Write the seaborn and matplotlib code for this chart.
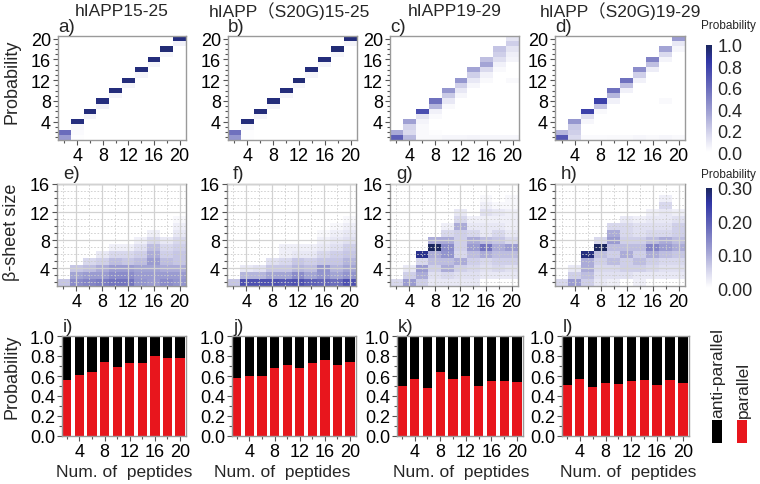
import matplotlib
matplotlib.use("Agg")
import matplotlib.pyplot as plt
import numpy as np
import pandas as pd
import seaborn as sns
from matplotlib.colors import LinearSegmentedColormap
from matplotlib.patches import Rectangle

sns.set_style("ticks")
plt.rcParams["font.family"] = ["Liberation Sans", "Noto Sans CJK SC", "DejaVu Sans"]

# ---------------- data ----------------
titles = ["hIAPP15-25", "hIAPP（S20G)15-25", "hIAPP19-29", "hIAPP（S20G)19-29"]
letters = ["a)", "b)", "c)", "d)", "e)", "f)", "g)", "h)", "i)", "j)", "k)", "l)"]
row_labels = ["Probability", "β-sheet size", "Probability"]
xlabel = "Num. of  peptides"
peptides = [2, 4, 6, 8, 10, 12, 14, 16, 18, 20]
x_major = [4, 8, 12, 16, 20]
cluster_sizes = list(range(1, 21))
sheet_sizes = list(range(2, 21))
cluster_ticks = [4, 8, 12, 16, 20]
sheet_ticks = [4, 8, 12, 16]
prob_ticks = [0.0, 0.2, 0.4, 0.6, 0.8, 1.0]
cbar_top_ticks = [0.0, 0.2, 0.4, 0.6, 0.8, 1.0]
cbar_mid_ticks = [0.0, 0.1, 0.2, 0.3]
legend_labels = ["anti-parallel", "parallel"]

# top row: probability of cluster size (key: num. of peptides -> {size: prob})
cluster_15_25 = {
    2: {1: 0.40, 2: 0.60},
    4: {1: 0.01, 2: 0.02, 3: 0.04, 4: 0.93},
    6: {5: 0.05, 6: 0.94},
    8: {7: 0.06, 8: 0.93},
    10: {9: 0.05, 10: 0.94},
    12: {11: 0.05, 12: 0.94},
    14: {13: 0.05, 14: 0.94},
    16: {15: 0.05, 16: 0.94},
    18: {17: 0.04, 18: 0.95},
    20: {19: 0.06, 20: 0.93},
}
cluster_s20g_15_25 = {
    2: {1: 0.42, 2: 0.58},
    4: {1: 0.01, 2: 0.01, 3: 0.04, 4: 0.94},
    6: {5: 0.05, 6: 0.94},
    8: {7: 0.05, 8: 0.94},
    10: {9: 0.05, 10: 0.94},
    12: {11: 0.04, 12: 0.95},
    14: {13: 0.05, 14: 0.94},
    16: {15: 0.05, 16: 0.94},
    18: {17: 0.04, 18: 0.95},
    20: {19: 0.05, 20: 0.94},
}
cluster_19_29 = {
    2: {1: 0.66, 2: 0.34},
    4: {1: 0.28, 2: 0.16, 3: 0.18, 4: 0.38},
    6: {1: 0.03, 2: 0.03, 3: 0.03, 4: 0.05, 5: 0.12, 6: 0.74},
    8: {1: 0.03, 2: 0.01, 5: 0.02, 6: 0.06, 7: 0.30, 8: 0.58},
    10: {1: 0.04, 7: 0.03, 8: 0.10, 9: 0.22, 10: 0.42},
    12: {1: 0.04, 9: 0.04, 10: 0.10, 11: 0.20, 12: 0.42},
    14: {1: 0.05, 11: 0.04, 12: 0.10, 13: 0.20, 14: 0.36},
    16: {1: 0.04, 12: 0.03, 13: 0.06, 14: 0.16, 15: 0.36, 16: 0.26},
    18: {1: 0.04, 14: 0.03, 15: 0.06, 16: 0.14, 17: 0.20, 18: 0.24},
    20: {1: 0.04, 12: 0.03, 16: 0.05, 17: 0.07, 18: 0.12, 19: 0.20, 20: 0.12},
}
cluster_s20g_19_29 = {
    2: {1: 0.70, 2: 0.30},
    4: {1: 0.16, 2: 0.20, 3: 0.22, 4: 0.42},
    6: {1: 0.02, 4: 0.04, 5: 0.14, 6: 0.80},
    8: {1: 0.02, 6: 0.03, 7: 0.24, 8: 0.80},
    10: {1: 0.03, 8: 0.06, 9: 0.30, 10: 0.58},
    12: {1: 0.03, 10: 0.06, 11: 0.26, 12: 0.58},
    14: {1: 0.04, 12: 0.06, 13: 0.20, 14: 0.46},
    16: {1: 0.03, 14: 0.08, 15: 0.26, 16: 0.50},
    18: {1: 0.04, 8: 0.03, 16: 0.05, 17: 0.16, 18: 0.36},
    20: {1: 0.03, 18: 0.04, 19: 0.10, 20: 0.40},
}

# middle row: probability of beta-sheet size
sheet_15_25 = {
    2: {2: 0.07},
    4: {2: 0.14, 3: 0.11, 4: 0.07},
    6: {2: 0.15, 3: 0.12, 4: 0.08, 5: 0.05},
    8: {2: 0.16, 3: 0.12, 4: 0.10, 5: 0.06, 6: 0.03},
    10: {2: 0.17, 3: 0.14, 4: 0.12, 5: 0.08, 6: 0.05, 7: 0.02},
    12: {2: 0.17, 3: 0.14, 4: 0.12, 5: 0.07, 6: 0.05, 7: 0.02},
    14: {2: 0.13, 3: 0.12, 4: 0.11, 5: 0.08, 6: 0.06, 7: 0.04, 8: 0.02},
    16: {2: 0.12, 3: 0.12, 4: 0.11, 5: 0.12, 6: 0.10, 7: 0.08, 8: 0.05, 9: 0.02},
    18: {2: 0.14, 3: 0.12, 4: 0.10, 5: 0.08, 6: 0.06, 7: 0.05, 8: 0.03},
    20: {2: 0.13, 3: 0.12, 4: 0.10, 5: 0.07, 6: 0.07, 7: 0.06, 8: 0.05, 9: 0.03, 10: 0.02, 11: 0.01},
}
sheet_s20g_15_25 = {
    2: {2: 0.07},
    4: {2: 0.22, 3: 0.09, 4: 0.03},
    6: {2: 0.22, 3: 0.09, 4: 0.04},
    8: {2: 0.22, 3: 0.11, 4: 0.07, 5: 0.04},
    10: {2: 0.21, 3: 0.11, 4: 0.07, 5: 0.05, 6: 0.02, 7: 0.02},
    12: {2: 0.22, 3: 0.14, 4: 0.09, 5: 0.07, 6: 0.03, 7: 0.02},
    14: {2: 0.20, 3: 0.11, 4: 0.08, 5: 0.06, 6: 0.03, 7: 0.02},
    16: {2: 0.19, 3: 0.13, 4: 0.13, 5: 0.07, 6: 0.05, 7: 0.03, 8: 0.02, 9: 0.01},
    18: {2: 0.18, 3: 0.11, 4: 0.09, 5: 0.07, 6: 0.06, 7: 0.04, 8: 0.03, 9: 0.02, 10: 0.01},
    20: {2: 0.22, 3: 0.13, 4: 0.11, 5: 0.09, 6: 0.07, 7: 0.06, 8: 0.04, 9: 0.03, 10: 0.02, 11: 0.01},
}
sheet_19_29 = {
    2: {2: 0.05},
    4: {2: 0.12, 3: 0.06, 4: 0.03},
    6: {2: 0.06, 3: 0.10, 4: 0.12, 5: 0.05, 6: 0.27},
    8: {2: 0.03, 3: 0.04, 4: 0.06, 5: 0.08, 6: 0.10, 7: 0.30, 8: 0.10},
    10: {2: 0.03, 3: 0.05, 4: 0.10, 5: 0.08, 6: 0.13, 7: 0.14, 8: 0.10, 9: 0.05, 10: 0.02},
    12: {2: 0.03, 3: 0.04, 4: 0.06, 5: 0.10, 6: 0.05, 7: 0.06, 8: 0.06, 9: 0.06, 10: 0.10, 11: 0.05, 12: 0.03},
    14: {2: 0.03, 3: 0.04, 4: 0.05, 5: 0.06, 6: 0.08, 7: 0.12, 8: 0.10, 9: 0.05, 10: 0.03, 11: 0.02},
    16: {3: 0.03, 4: 0.04, 5: 0.05, 6: 0.10, 7: 0.17, 8: 0.08, 9: 0.03, 10: 0.03, 11: 0.02, 12: 0.04, 13: 0.02, 14: 0.01},
    18: {3: 0.03, 4: 0.05, 5: 0.06, 6: 0.08, 7: 0.10, 8: 0.07, 9: 0.05, 10: 0.03, 11: 0.02, 12: 0.03, 13: 0.01},
    20: {3: 0.03, 4: 0.04, 5: 0.06, 6: 0.08, 7: 0.12, 8: 0.05, 9: 0.03, 10: 0.02, 11: 0.02, 12: 0.02, 13: 0.01, 14: 0.01},
}
sheet_s20g_19_29 = {
    2: {2: 0.05},
    4: {2: 0.12, 3: 0.06, 4: 0.03},
    6: {2: 0.06, 3: 0.08, 4: 0.10, 5: 0.10, 6: 0.28},
    8: {2: 0.03, 3: 0.04, 4: 0.05, 5: 0.06, 6: 0.08, 7: 0.30, 8: 0.05},
    10: {2: 0.02, 3: 0.04, 4: 0.05, 5: 0.08, 6: 0.06, 7: 0.08, 8: 0.12, 9: 0.10, 10: 0.05},
    12: {3: 0.04, 4: 0.06, 5: 0.06, 6: 0.10, 7: 0.08, 8: 0.06, 9: 0.05, 10: 0.05, 11: 0.03},
    14: {2: 0.02, 3: 0.03, 4: 0.06, 5: 0.08, 6: 0.06, 7: 0.08, 8: 0.06, 9: 0.04, 10: 0.04, 11: 0.02},
    16: {3: 0.03, 4: 0.05, 5: 0.06, 6: 0.10, 7: 0.15, 8: 0.08, 9: 0.05, 10: 0.04, 11: 0.03, 12: 0.02},
    18: {3: 0.03, 4: 0.04, 5: 0.05, 6: 0.08, 7: 0.12, 8: 0.10, 9: 0.05, 10: 0.04, 11: 0.03, 12: 0.03, 13: 0.05, 14: 0.02},
    20: {3: 0.03, 4: 0.04, 5: 0.05, 6: 0.07, 7: 0.10, 8: 0.08, 9: 0.06, 10: 0.06, 11: 0.04, 12: 0.02},
}

# bottom row: fraction of parallel sheets
parallel_15_25 = [0.56, 0.61, 0.64, 0.74, 0.69, 0.73, 0.73, 0.80, 0.78, 0.78]
parallel_s20g_15_25 = [0.58, 0.60, 0.60, 0.68, 0.71, 0.68, 0.73, 0.76, 0.71, 0.74]
parallel_19_29 = [0.50, 0.57, 0.48, 0.64, 0.57, 0.60, 0.50, 0.55, 0.55, 0.54]
parallel_s20g_19_29 = [0.51, 0.57, 0.49, 0.53, 0.52, 0.55, 0.56, 0.51, 0.56, 0.53]

cluster_data = [cluster_15_25, cluster_s20g_15_25, cluster_19_29, cluster_s20g_19_29]
sheet_data = [sheet_15_25, sheet_s20g_15_25, sheet_19_29, sheet_s20g_19_29]
parallel_data = [parallel_15_25, parallel_s20g_15_25, parallel_19_29, parallel_s20g_19_29]

# ---------------- styling / layout ----------------
W, H = 760, 485
RED = "#e8161d"
SPINE = "#9a9a9a"
TICKC = "#555555"
FS = 13
cmap = LinearSegmentedColormap.from_list(
    "prob",
    [(0.0, "#ffffff"), (0.15, "#dcdcef"), (0.35, "#a6a7d6"), (0.6, "#6a6cbc"),
     (0.85, "#3136a6"), (1.0, "#1b275f")])

top_boxes = [(58, 37, 186, 141), (228, 37, 357, 141), (390, 37, 519, 141), (555, 37, 685, 141)]
mid_boxes = [(57, 185, 186, 287), (227, 185, 356, 287), (390, 185, 518, 287), (555, 185, 685, 287)]
bot_boxes = [(62, 337, 186, 437), (232, 337, 356, 437), (397, 337, 523, 437), (562, 337, 689, 437)]
title_x = [122, 289, 455, 620]
xlabel_x = [124, 282, 461, 628]

fig = plt.figure(figsize=(W / 100, H / 100), dpi=100)


def px_axes(box):
    l, t, r, b = box
    return fig.add_axes([l / W, 1 - b / H, (r - l) / W, (b - t) / H])


def style_axes(ax):
    for sp in ax.spines.values():
        sp.set_visible(True)
        sp.set_color(SPINE)
        sp.set_linewidth(1.0)
    ax.tick_params(which="both", direction="out", color=TICKC, width=0.8,
                   labelsize=FS, pad=1.5, labelcolor="black")
    ax.tick_params(which="major", length=3.5)
    ax.tick_params(which="minor", length=2.0)
    ax.set_xlabel("")
    ax.set_ylabel("")


def set_x_ticks(ax):
    ax.set_xticks([peptides.index(n) + 0.5 for n in x_major])
    ax.set_xticklabels([str(n) for n in x_major])
    ax.set_xticks([peptides.index(n) + 0.5 for n in peptides if n not in x_major], minor=True)


def heat_panel(ax, data, sizes, vmax, ytop, yticks, cax=None, cticks=None, fmt="%.1f"):
    rows = [(n, s, p) for n, col in data.items() for s, p in col.items()]
    df = pd.DataFrame(rows, columns=["n", "size", "p"])
    mat = (df.pivot(index="size", columns="n", values="p")
             .reindex(index=sizes, columns=peptides).fillna(0.0))
    if cax is not None:
        kw = dict(cbar=True, cbar_ax=cax, cbar_kws={"ticks": cticks, "format": fmt})
    else:
        kw = dict(cbar=False)
    sns.heatmap(mat, ax=ax, cmap=cmap, vmin=0, vmax=vmax,
                xticklabels=False, yticklabels=False, **kw)
    ax.set_ylim(0, ytop)
    ax.set_xlim(0, len(peptides))
    set_x_ticks(ax)
    ax.set_yticks([sizes.index(v) + 0.5 for v in yticks])
    ax.set_yticklabels([str(v) for v in yticks])
    ax.set_yticks([sizes.index(v) + 0.5 for v in sizes
                   if v not in yticks and sizes.index(v) + 0.5 <= ytop], minor=True)
    style_axes(ax)
    if cax is not None:
        cb = ax.collections[0].colorbar
        cb.outline.set_visible(False)
        cb.ax.tick_params(length=0, labelsize=FS, pad=4)


# top row
cax_top = fig.add_axes([706 / W, 1 - 153 / H, 6 / W, 107 / H])
for i in range(4):
    ax = px_axes(top_boxes[i])
    heat_panel(ax, cluster_data[i], cluster_sizes, 1.0, 20, cluster_ticks,
               cax=cax_top if i == 3 else None, cticks=cbar_top_ticks, fmt="%.1f")
    ax.annotate(letters[i], xy=(0, 1), xycoords="axes fraction", xytext=(0, 1.5),
                textcoords="offset pixels", ha="left", va="bottom", fontsize=13.5)
    fig.text(title_x[i] / W, 1 - 11 / H, titles[i], ha="center", va="center", fontsize=12.5)

# middle row
cax_mid = fig.add_axes([706 / W, 1 - 289 / H, 6 / W, 100 / H])
for i in range(4):
    ax = px_axes(mid_boxes[i])
    heat_panel(ax, sheet_data[i], sheet_sizes, 0.3, 14.5, sheet_ticks,
               cax=cax_mid if i == 3 else None, cticks=cbar_mid_ticks, fmt="%.2f")
    ax.set_axisbelow(False)
    ax.grid(True, which="major", color="#d2d2d2", lw=0.9, ls="-")
    ax.grid(True, which="minor", color="#cccccc", lw=0.6, ls=(0, (2, 2)))
    ax.annotate(letters[4 + i], xy=(0, 1), xycoords="axes fraction", xytext=(6, 1.5),
                textcoords="offset pixels", ha="left", va="bottom", fontsize=13.5)

# bottom row
for i in range(4):
    ax = px_axes(bot_boxes[i])
    df = pd.DataFrame({"n": peptides, "parallel": parallel_data[i]})
    df["anti-parallel"] = 1.0 - df["parallel"]
    df["total"] = df["parallel"] + df["anti-parallel"]
    sns.barplot(data=df, x="n", y="total", color="black", width=0.73, saturation=1,
                errorbar=None, linewidth=0, ax=ax)
    sns.barplot(data=df, x="n", y="parallel", color=RED, width=0.73, saturation=1,
                errorbar=None, linewidth=0, ax=ax)
    ax.set_xlim(-0.38, 9.47)
    ax.set_ylim(0, 1)
    ax.set_xticks([peptides.index(n) for n in x_major])
    ax.set_xticklabels([str(n) for n in x_major])
    ax.set_xticks([peptides.index(n) for n in peptides if n not in x_major], minor=True)
    ax.set_yticks(prob_ticks)
    ax.set_yticklabels([f"{v:.1f}" for v in prob_ticks])
    ax.set_yticks(np.arange(0.1, 1.0, 0.2), minor=True)
    style_axes(ax)
    ax.annotate(letters[8 + i], xy=(0, 1), xycoords="axes fraction", xytext=(1, 1.5),
                textcoords="offset pixels", ha="left", va="bottom", fontsize=13.5)
    fig.text(xlabel_x[i] / W, 1 - 473 / H, xlabel, ha="center", va="center", fontsize=12.5)

# row labels
for y, lab in zip([82, 232, 377], row_labels):
    fig.text(12 / W, 1 - y / H, lab, rotation=90, ha="center", va="center", fontsize=13)

# colorbar titles
fig.text(728 / W, 1 - 26 / H, "Probability", ha="center", va="center", fontsize=8.5)
fig.text(728 / W, 1 - 175 / H, "Probability", ha="center", va="center", fontsize=8.5)

# legend for bottom row
for x0, col, lab in [(712, "black", legend_labels[0]), (737, RED, legend_labels[1])]:
    fig.add_artist(Rectangle((x0 / W, 1 - 444 / H), 10 / W, 23 / H,
                             transform=fig.transFigure, facecolor=col, edgecolor="none"))
    fig.text((x0 + 6) / W, 1 - 418 / H, lab, rotation=90, ha="center", va="bottom", fontsize=12.5)

fig.savefig("out.png", dpi=100)
